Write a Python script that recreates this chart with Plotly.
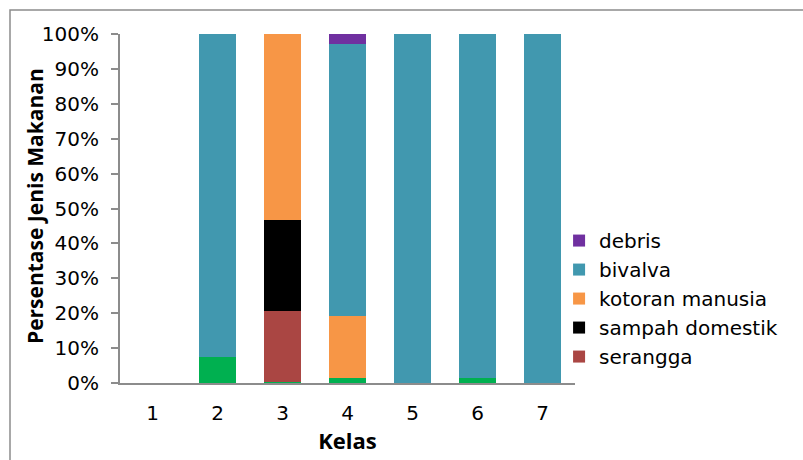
import plotly.graph_objects as go

kelas = ["1", "2", "3", "4", "5", "6", "7"]

# share of each food type per class (%)
ikan = [0, 7.5, 0.3, 1.4, 0, 1.4, 0]
serangga = [0, 0, 20.3, 0, 0, 0, 0]
sampah_domestik = [0, 0, 26.1, 0, 0, 0, 0]
kotoran_manusia = [0, 0, 53.3, 17.8, 0, 0, 0]
bivalva = [0, 92.5, 0, 77.9, 100, 98.6, 100]
debris = [0, 0, 0, 2.9, 0, 0, 0]

series = [
    ("ikan", ikan, "#00B050", False),
    ("serangga", serangga, "#AA4643", True),
    ("sampah domestik", sampah_domestik, "#000000", True),
    ("kotoran manusia", kotoran_manusia, "#F79646", True),
    ("bivalva", bivalva, "#4198AF", True),
    ("debris", debris, "#7030A0", True),
]

fig = go.Figure()
for name, vals, color, show in series:
    fig.add_trace(go.Bar(
        x=kelas, y=[v / 100 for v in vals], name=name,
        marker=dict(color=color, line=dict(width=0)),
        showlegend=show, width=0.57,
    ))

font = "'DejaVu Sans', sans-serif"
title_font = "'Open Sans', sans-serif"
fig.update_layout(
    barmode="stack",
    width=803, height=460,
    margin=dict(l=120, r=228, t=34, b=77),
    paper_bgcolor="white", plot_bgcolor="white",
    font=dict(family=font, size=20, color="black"),
    legend=dict(
        x=0.965, xanchor="left", y=0.464, yanchor="top",
        traceorder="reversed", font=dict(size=20),
        itemwidth=30, tracegroupgap=0, bgcolor="rgba(0,0,0,0)",
    ),
    xaxis=dict(
        showline=True, linecolor="#8c8c8c", linewidth=2,
        ticks="", showgrid=False, range=[-0.5, 6.5],
        ticklabelstandoff=11,
        title=dict(text="<b>Kelas</b>", standoff=6,
                   font=dict(family=title_font, size=22)),
    ),
    yaxis=dict(
        range=[0, 1], tickformat=".0%", dtick=0.1,
        showline=True, linecolor="#8c8c8c", linewidth=2,
        ticks="outside", ticklen=7, tickcolor="#8c8c8c", tickwidth=1.5,
        showgrid=False, zeroline=False, ticklabelstandoff=8,
    ),
    annotations=[dict(
        text="<b>Persentase Jenis Makanan</b>", textangle=-90,
        xref="paper", yref="paper", x=(35 - 120) / 455, y=0.507,
        xanchor="center", yanchor="middle", showarrow=False,
        font=dict(family=title_font, size=21),
    )],
    shapes=[dict(
        type="rect", xref="paper", yref="paper",
        x0=-110 / 455, x1=(803 - 120 + 5) / 455,
        y0=-(460 - 383 + 10) / 349, y1=(383 - 10) / 349,
        line=dict(color="#8c8c8c", width=1.5), fillcolor="rgba(0,0,0,0)",
        layer="below",
    )],
)

fig.write_html("out.html")
